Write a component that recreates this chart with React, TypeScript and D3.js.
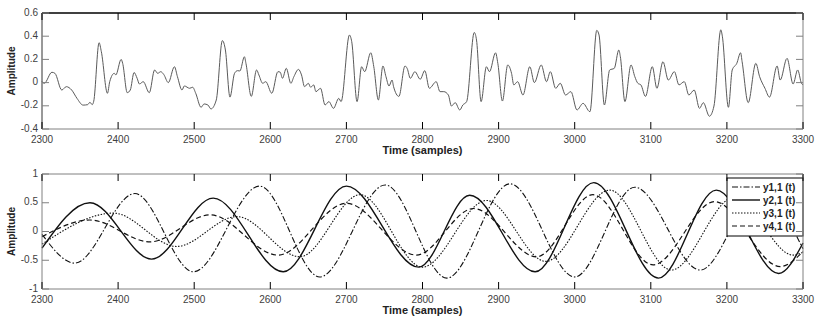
import * as d3 from "d3";

const topT = [
  2300, 2303, 2313, 2317, 2326, 2332, 2339, 2346, 2354, 2360, 2363, 2366, 2368, 2375, 2378, 2386, 2389, 2395, 2397, 2404,
  2406, 2412, 2416, 2421, 2425, 2428, 2433, 2441, 2448, 2452, 2456, 2460, 2466, 2474, 2478, 2484, 2487, 2494, 2498, 2502,
  2509, 2513, 2518, 2522, 2529, 2537, 2541, 2547, 2553, 2557, 2560, 2566, 2568, 2575, 2582, 2585, 2590, 2594, 2602, 2610,
  2613, 2616, 2621, 2627, 2631, 2637, 2641, 2645, 2650, 2653, 2657, 2660, 2666, 2672, 2677, 2683, 2690, 2693, 2704, 2707,
  2714, 2720, 2724, 2732, 2736, 2742, 2748, 2752, 2756, 2760, 2762, 2769, 2777, 2780, 2784, 2790, 2797, 2803, 2809, 2818,
  2823, 2828, 2834, 2838, 2843, 2849, 2853, 2858, 2868, 2871, 2877, 2884, 2888, 2896, 2899, 2905, 2912, 2917, 2920, 2925,
  2932, 2941, 2947, 2956, 2963, 2968, 2975, 2981, 2988, 2995, 3003, 3011, 3020, 3029, 3032, 3039, 3046, 3052, 3058, 3060,
  3066, 3074, 3079, 3083, 3087, 3093, 3102, 3108, 3116, 3123, 3131, 3137, 3144, 3150, 3157, 3164, 3169, 3177, 3183, 3192,
  3194, 3202, 3207, 3213, 3218, 3220, 3228, 3238, 3243, 3250, 3256, 3266, 3270, 3279, 3287, 3293, 3298, 3300,
];
const topV = [
  0.008, -0.006, 0.089, 0.08, -0.064, -0.035, -0.064, -0.136, -0.194, -0.19, -0.17, -0.19, -0.16, 0.344, 0.266, -0.092, 0.008, 0.08, 0.066, 0.2,
  0.166, -0.087, -0.064, 0.087, 0.037, -0.012, 0.008, -0.087, 0.109, 0.08, 0.094, 0.07, 0.0, 0.137, 0.051, -0.064, -0.029, -0.049, -0.04, -0.092,
  -0.213, -0.184, -0.193, -0.227, -0.15, 0.362, 0.281, -0.125, 0.08, 0.103, 0.1, 0.223, 0.166, -0.119, 0.109, 0.066, -0.006, 0.008, -0.092, 0.094,
  0.09, 0.037, 0.123, -0.006, 0.051, 0.114, 0.066, -0.035, -0.006, -0.04, -0.02, -0.078, -0.049, -0.193, -0.164, -0.222, -0.136, -0.164, 0.41, 0.353,
  -0.164, 0.137, 0.094, 0.257, 0.137, -0.15, 0.143, 0.051, -0.029, 0.022, -0.035, -0.119, 0.143, 0.12, 0.037, 0.094, 0.029, 0.103, -0.049, 0.008,
  -0.078, -0.078, -0.107, -0.202, -0.173, -0.236, -0.193, -0.164, 0.432, 0.367, -0.164, 0.137, 0.094, 0.257, 0.166, -0.159, 0.152, 0.08, -0.02, 0.008,
  -0.107, 0.137, 0.0, 0.152, 0.008, 0.094, -0.049, -0.006, -0.107, -0.078, -0.236, -0.179, -0.251, 0.45, 0.41, -0.193, 0.109, 0.123, 0.281, 0.223,
  -0.164, 0.152, 0.051, -0.006, -0.02, -0.119, 0.137, -0.049, 0.18, 0.022, 0.094, -0.02, 0.008, -0.107, -0.064, -0.222, -0.173, -0.29, -0.202, 0.455,
  0.4, -0.213, 0.109, 0.166, 0.257, 0.18, -0.173, 0.166, 0.051, -0.049, -0.125, 0.143, 0.022, 0.209, -0.012, 0.109, -0.006, -0.02,
];

// bottom panel: four components, turning points
const y1T = [2300, 2343, 2422, 2499, 2586, 2665, 2751, 2832, 2915, 3000, 3079, 3165, 3243, 3300];
const y1V = [-0.05, -0.55, 0.66, -0.7, 0.79, -0.79, 0.81, -0.81, 0.83, -0.79, 0.77, -0.67, 0.7, -0.3];
const y2T = [2300, 2363, 2444, 2525, 2617, 2700, 2795, 2862, 2948, 3025, 3110, 3186, 3268, 3300];
const y2V = [-0.29, 0.5, -0.48, 0.58, -0.7, 0.79, -0.62, 0.63, -0.7, 0.85, -0.81, 0.72, -0.73, -0.2];
const y3T = [2300, 2394, 2477, 2556, 2639, 2718, 2800, 2884, 2962, 3046, 3127, 3210, 3287, 3300];
const y3V = [-0.22, 0.32, -0.26, 0.26, -0.44, 0.64, -0.62, 0.54, -0.52, 0.72, -0.67, 0.6, -0.41, -0.36];
const y4T = [2300, 2363, 2442, 2521, 2610, 2700, 2792, 2867, 2950, 3024, 3103, 3184, 3270, 3300];
const y4V = [-0.09, 0.2, -0.18, 0.29, -0.41, 0.49, -0.41, 0.4, -0.44, 0.64, -0.58, 0.52, -0.61, -0.35];

const seriesNames = ["y1,1 (t)", "y2,1 (t)", "y3,1 (t)", "y4,1 (t)"];
const xTicks = [2300, 2400, 2500, 2600, 2700, 2800, 2900, 3000, 3100, 3200, 3300];
const topTicks = [-0.4, -0.2, 0, 0.2, 0.4, 0.6];
const botTicks = [-1, -0.5, 0, 0.5, 1];

const dashes = ["6,2,1.5,2", "", "1.5,1.5", "5,3"];
const widths = [1.1, 1.4, 1.1, 1.2];

const W = 830;
const H = 318;
const left = 42;
const right = 803;
const font = "Liberation Sans, Arial, sans-serif";

function Panel({ top, bottom, domain, ticks, blackTop, children }: any) {
  const x = d3.scaleLinear([2300, 3300], [left, right]);
  const y = d3.scaleLinear(domain, [bottom, top]);
  return (
    <g>
      {children(x, y)}
      {/* box */}
      <line x1={left} x2={right} y1={bottom} y2={bottom} stroke="#808080" />
      <line x1={right} x2={right} y1={top} y2={bottom} stroke="#808080" />
      <line x1={left} x2={left} y1={top} y2={bottom} stroke={blackTop ? "#333" : "#808080"} />
      <line x1={left} x2={right} y1={top} y2={top} stroke={blackTop ? "#000" : "#808080"} strokeWidth={blackTop ? 1.3 : 1} />
      {xTicks.map((t) => (
        <g key={t}>
          <line x1={x(t)} x2={x(t)} y1={top} y2={top + 7} stroke="#000" />
          <line x1={x(t)} x2={x(t)} y1={bottom} y2={bottom - 7} stroke="#000" />
          <text x={x(t)} y={bottom + 13.5} textAnchor="middle" fontSize={10} fill="#404040" fontFamily={font}>
            {t}
          </text>
        </g>
      ))}
      {ticks.map((t: number) => (
        <g key={t}>
          <line x1={left} x2={left + 7} y1={y(t)} y2={y(t)} stroke="#808080" />
          <line x1={right} x2={right - 7} y1={y(t)} y2={y(t)} stroke="#808080" />
          <text x={left - 4} y={y(t) + 2.5} textAnchor="end" fontSize={10} fill="#404040" fontFamily={font}>
            {String(t)}
          </text>
        </g>
      ))}
      <text
        transform={`translate(15,${(top + bottom) / 2}) rotate(-90)`}
        textAnchor="middle"
        fontSize={10}
        fontWeight="bold"
        fill="#222"
        fontFamily={font}
      >
        Amplitude
      </text>
      <text x={(left + right) / 2} y={bottom + 25} textAnchor="middle" fontSize={11} fontWeight="bold" fill="#222" fontFamily={font}>
        Time (samples)
      </text>
    </g>
  );
}

export default function App() {
  const bottoms = [
    [y1T, y1V],
    [y2T, y2V],
    [y3T, y3V],
    [y4T, y4V],
  ];
  return (
    <svg width={W} height={H} style={{ position: "absolute", left: 0, top: 0, background: "#fff" }}>
      <Panel top={13} bottom={129} domain={[-0.4, 0.6]} ticks={topTicks} blackTop>
        {(x: any, y: any) => {
          const line = d3
            .line<number>()
            .x((t) => x(t))
            .y((_, i) => y(topV[i]))
            .curve(d3.curveMonotoneX);
          return <path d={line(topT) || ""} fill="none" stroke="#5a5a5a" strokeWidth={1} />;
        }}
      </Panel>
      <Panel top={174} bottom={289} domain={[-1, 1]} ticks={botTicks}>
        {(x: any, y: any) => (
          <g>
            {bottoms.map(([ts, vs], k) => {
              const line = d3
                .line<number>()
                .x((t) => x(t))
                .y((_, i) => y(vs[i]))
                .curve(d3.curveMonotoneX);
              return (
                <path
                  key={k}
                  d={line(ts) || ""}
                  fill="none"
                  stroke="#111"
                  strokeWidth={widths[k]}
                  strokeDasharray={dashes[k] || undefined}
                />
              );
            })}
            <rect x={727} y={178} width={76} height={58} fill="#fff" stroke="#000" strokeWidth={1} />
            {seriesNames.map((n, k) => (
              <g key={n}>
                <line
                  x1={732}
                  x2={760}
                  y1={187 + k * 13}
                  y2={187 + k * 13}
                  stroke="#111"
                  strokeWidth={widths[k]}
                  strokeDasharray={dashes[k] || undefined}
                />
                <text x={763} y={190.5 + k * 13} fontSize={10} fontWeight="bold" fill="#222" fontFamily={font}>
                  {n}
                </text>
              </g>
            ))}
          </g>
        )}
      </Panel>
    </svg>
  );
}
